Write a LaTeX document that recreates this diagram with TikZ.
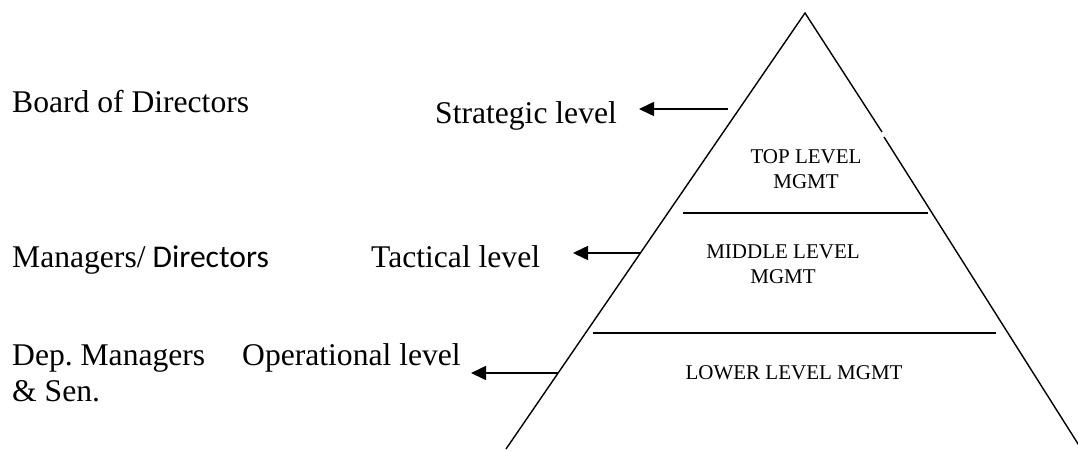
\documentclass[tikz,border=0pt]{standalone}
\usepackage{fontspec}
\setmainfont{Liberation Serif}
\newfontfamily\calib{Carlito}
\usetikzlibrary{arrows.meta}
\begin{document}
\begin{tikzpicture}[x=1pt,y=-1pt,
  big/.style={font=\fontsize{31.6}{36}\selectfont\frenchspacing, inner sep=0pt, anchor=base west, align=left},
  small/.style={font=\fontsize{21}{25}\selectfont, inner sep=0pt, anchor=base, align=center},
  edge/.style={line width=1.4pt},
  sep/.style={line width=1.4pt},
  pointer/.style={line width=1.6pt, -{Triangle[length=15pt,width=14pt]}}]
\useasboundingbox (0,0) rectangle (1078,450);
% pyramid
\coordinate (apex) at (805,13);
\coordinate (lb) at (506,449);
\coordinate (gapa) at (882,132);
\coordinate (gapb) at (884,137);
\coordinate (rb) at (1080,447);
\draw[edge] (lb) -- (apex) -- (gapa);
\draw[edge] (gapb) -- (rb);
\coordinate (l1a) at (683,213);
\coordinate (l1b) at (928,213);
\coordinate (l2a) at (593,333);
\coordinate (l2b) at (996,333);
\draw[sep] (l1a) -- (l1b);
\draw[sep] (l2a) -- (l2b);
% level texts (base anchor = baseline of last line)
\node[small] (top) at (806,188) {TOP LEVEL\\MGMT};
\node[small] (mid) at (783,283) {MIDDLE LEVEL\\MGMT};
\node[small] (low) at (794,379) {LOWER LEVEL MGMT};
% left texts
\node[big] (board) at (12,112) {Board of Directors};
\node[big] (strat) at (435,123) {Strategic level};
\node[big] (mgr) at (12,267) {Managers/{\calib\ Directors}};
\node[big] (tact) at (371,267) {Tactical level};
\node[big] (dep) at (12,401) {Dep. Managers\\\& Sen.};
\node[big] (oper) at (242,365) {Operational level};
% arrows
\coordinate (s1) at (728,109);
\coordinate (t1) at (639,109);
\coordinate (s2) at (640,253);
\coordinate (t2) at (573,253);
\coordinate (s3) at (558,373);
\coordinate (t3) at (471,373);
\draw[pointer] (s1) -- (t1);
\draw[pointer] (s2) -- (t2);
\draw[pointer] (s3) -- (t3);
\end{tikzpicture}
\end{document}
